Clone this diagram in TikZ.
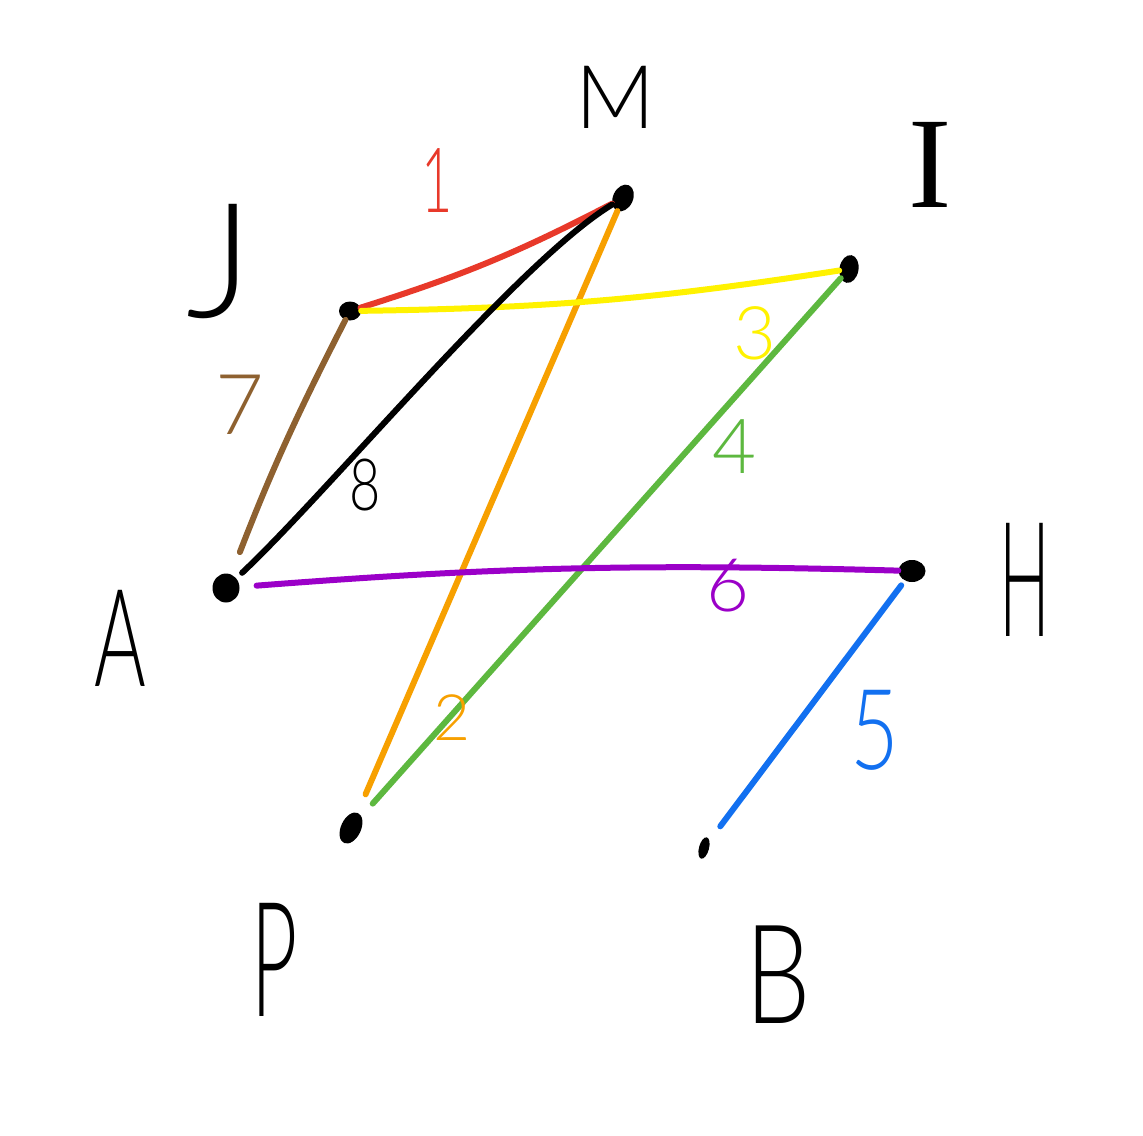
\documentclass[tikz,border=0pt]{standalone}
\usepackage{fontspec}
\usepackage{graphicx}
\setmainfont{Lato}[UprightFont={* Light}]
\newfontfamily\serifI{Liberation Serif}
\usetikzlibrary{shapes.geometric}
\definecolor{cred}{HTML}{E8392A}
\definecolor{corange}{HTML}{F7A000}
\definecolor{cyellow}{HTML}{FFF200}
\definecolor{cgreen}{HTML}{5DB83F}
\definecolor{cblue}{HTML}{1270F0}
\definecolor{cpurple}{HTML}{9B00C8}
\definecolor{cbrown}{HTML}{8E6130}
\newcommand{\fs}[1]{\fontsize{#1}{#1}\selectfont}
\begin{document}
\begin{tikzpicture}[x=1pt,y=-1pt,
  vdot/.style={ellipse,fill=black,inner sep=0pt,minimum width=20pt,minimum height=28pt},
  vlab/.style={inner sep=0pt},
  elab/.style={inner sep=0pt},
  edge/.style={line width=6pt,line cap=round}]
\useasboundingbox[fill=white] (0,0) rectangle (1143,1135);
% vertices
\node[vdot,rotate=-25] (M) at (623,198) {};
\node[vdot,minimum width=19pt,minimum height=28pt,rotate=-10] (I) at (849,269) {};
\node[vdot,minimum width=22pt,minimum height=19pt] (J) at (350,311) {};
\node[vdot,minimum width=27pt,minimum height=29pt] (A) at (226,588) {};
\node[vdot,minimum width=27pt,minimum height=22pt] (H) at (912,571) {};
\node[vdot,minimum width=20pt,minimum height=33pt,rotate=-25] (P) at (351,828) {};
\node[vdot,minimum width=10pt,minimum height=22pt,rotate=-15] (B) at (704,848) {};
% vertex labels
\node[vlab,font=\fs{88}] (lM) at (615,97) {M};
\node[vlab,font=\serifI\fs{130}] (lI) at (930,165) {I};
\node[vlab,font=\fs{160}] (lJ) at (220,262) {J};
\node[vlab,font=\fs{136}] (lA) at (120,638) {\scalebox{0.58}[1]{A}};
\node[vlab,font=\fs{160}] (lH) at (1025,580) {\scalebox{0.42}[1]{H}};
\node[vlab,font=\fs{160}] (lP) at (275,960) {\scalebox{0.5}[1]{P}};
\node[vlab,font=\fs{138}] (lB) at (778,975) {\scalebox{0.75}[1]{B}};
% edges
\draw[edge,cred] (J) to[bend right=5] (M);
\draw[edge,corange,shorten >=20pt] (M) -- (P);
\draw[edge,cyellow] (J) to[bend right=4] (I);
\draw[edge,cgreen,shorten >=17pt] (I) -- (P);
\draw[edge,cblue,shorten <=18pt,shorten >=6pt] (B) -- (H);
\draw[edge,cpurple,shorten <=17pt] (A) to[bend left=3] (H);
\draw[edge,cbrown,shorten >=24pt] (J) to[bend right=3] (A);
\draw[edge,black,shorten <=8pt] (A) .. controls (330,490) and (520,260) .. (M);
% edge labels
\node[elab,cred,font=\fs{90}] (l1) at (437,181) {\scalebox{0.6}[1]{1}};
\node[elab,corange,font=\fs{64}] (l2) at (452,718) {2};
\node[elab,cyellow,font=\fs{74}] (l3) at (755,333) {3};
\node[elab,cgreen,font=\fs{76}] (l4) at (735,447) {4};
\node[elab,cblue,font=\fs{112}] (l5) at (875,730) {\scalebox{0.75}[1]{5}};
\node[elab,cpurple,font=\fs{74}] (l6) at (728,586) {6};
\node[elab,cbrown,font=\fs{84}] (l7) at (240,405) {7};
\node[elab,black,font=\fs{72}] (l8) at (365,485) {\scalebox{0.75}[1]{8}};
\end{tikzpicture}
\end{document}
